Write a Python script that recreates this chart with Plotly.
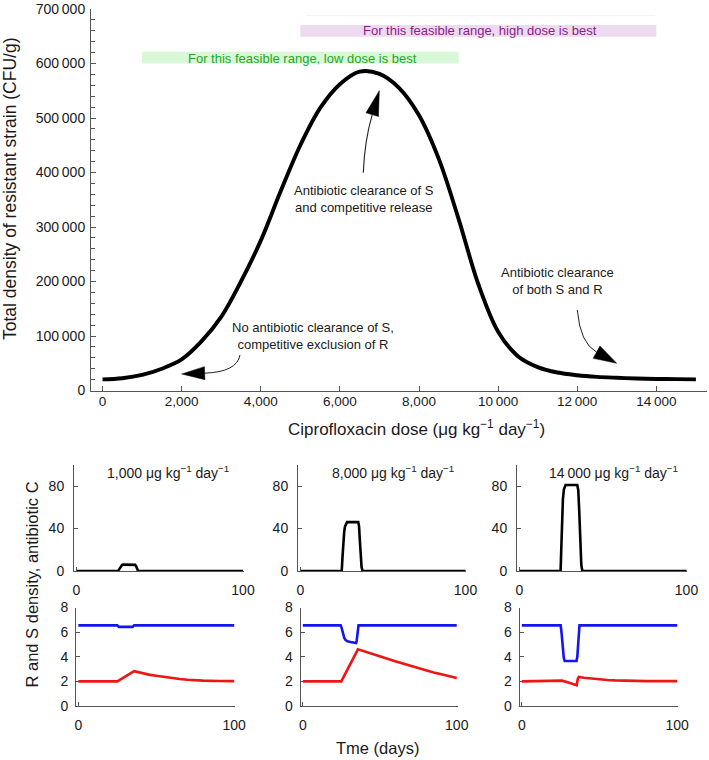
import math
import plotly.graph_objects as go

W, H = 709, 760
FONT = "Liberation Sans, Arial, sans-serif"
AX = "#555555"
TXT = "#1a1a1a"

# ---------------- data: top panel ----------------
dose = [0, 500, 1000, 1500, 2000, 2500, 3000, 3500, 4000, 4500, 5000, 5500, 6000, 6500,
        7000, 7500, 8000, 8500, 9000, 9500, 10000, 10500, 11000, 11500, 12000, 12500,
        13000, 13500, 14000, 14500, 15000]
density = [20500, 22500, 28500, 40000, 57000, 90000, 135000, 200000, 275000, 365000,
           450000, 518000, 562000, 585000, 581000, 555000, 505000, 425000, 315000, 195000,
           108000, 63000, 43000, 33000, 28000, 25000, 23300, 22000, 21200, 20800, 20500]

x_tickvals = [0, 2000, 4000, 6000, 8000, 10000, 12000, 14000]
x_ticktext = ["0", "2,000", "4,000", "6,000", "8,000", "10\u2009000", "12\u2009000", "14\u2009000"]
y_tickvals = [0, 100000, 200000, 300000, 400000, 500000, 600000, 700000]
y_ticktext = ["0", "100\u2009000", "200\u2009000", "300\u2009000", "400\u2009000",
              "500\u2009000", "600\u2009000", "700\u2009000"]

low_range = [1000, 9000]
low_band_y = [600000, 621500]
high_range = [5000, 14000]
high_band_y = [649000, 670500]

# ---------------- data: bottom panels ----------------
t_c1 = [0, 25, 25.8, 26.6, 27.4, 28, 34.6, 35.2, 35.8, 36.4, 37, 100]
c1 = [0, 0, 2, 4.5, 5.8, 6, 6, 5.8, 4.5, 2, 0, 0]
t_s1 = [0, 25, 26, 34.8, 35.8, 100]
s1 = [6.55, 6.55, 6.43, 6.43, 6.55, 6.55]
t_r1 = [0, 25, 35.8, 38, 40, 43, 46, 50, 55, 60, 65, 70, 75, 80, 90, 100]
r1 = [2, 2, 2.83, 2.76, 2.7, 2.61, 2.53, 2.45, 2.35, 2.26, 2.19, 2.13, 2.09, 2.06, 2.03, 2.02]

t_c2 = [0, 25, 25.5, 26, 26.5, 27, 27.5, 28.2, 35, 35.5, 36, 36.5, 37, 37.6, 100]
c2 = [0, 0, 14, 28, 37, 42, 44.5, 46, 46, 42, 28, 12, 4, 0, 0]
t_s2 = [0, 24.6, 25.2, 25.8, 26.4, 27.0, 27.8, 29.0, 31, 34.6, 35.0, 35.4, 35.8, 36.2, 100]
s2 = [6.55, 6.55, 6.35, 6.0, 5.7, 5.5, 5.36, 5.26, 5.2, 5.12, 5.3, 5.9, 6.4, 6.55, 6.55]
t_r2 = [0, 25, 35.8, 40, 45, 50, 55, 60, 65, 70, 75, 80, 85, 90, 95, 100]
r2 = [2, 2, 4.6, 4.42, 4.22, 4.02, 3.83, 3.64, 3.45, 3.27, 3.08, 2.9, 2.73, 2.57, 2.42, 2.27]

t_c3 = [0, 24.6, 25, 25.5, 26, 26.6, 27.6, 34.6, 35.2, 35.8, 36.4, 37, 37.6, 100]
c3 = [0, 0, 20, 50, 68, 77, 81, 81, 76, 55, 25, 6, 0, 0]
t_s3 = [0, 25, 25.6, 26.3, 27.0, 27.6, 35.2, 35.7, 36.2, 36.7, 37.1, 100]
s3 = [6.55, 6.55, 5.9, 4.7, 3.9, 3.65, 3.65, 4.0, 5.0, 6.1, 6.55, 6.55]
t_r3 = [0, 25, 25.8, 30, 35.3, 36.0, 36.6, 40, 45, 50, 55, 60, 70, 80, 100]
r3 = [2, 2, 2.06, 1.9, 1.68, 2.2, 2.36, 2.3, 2.22, 2.16, 2.11, 2.08, 2.03, 2.02, 2.02]

panel_titles = ["1,000 \u03bcg kg<sup>\u22121</sup> day<sup>\u22121</sup>",
                "8,000 \u03bcg kg<sup>\u22121</sup> day<sup>\u22121</sup>",
                "14\u2009000 \u03bcg kg<sup>\u22121</sup> day<sup>\u22121</sup>"]


# helpers: convert window pixel positions to paper fractions
def fx(px):
    return px / W


def fy(py):
    return 1 - py / H


def xd(a, b):
    return [fx(a), fx(b)]


def yd(top, bottom):
    return [fy(bottom), fy(top)]


def P(px, py):
    return f"{fx(px):.5f},{fy(py):.5f}"


fig = go.Figure()

# main curve
fig.add_trace(go.Scatter(x=dose, y=density, mode="lines", xaxis="x", yaxis="y",
                         line=dict(color="black", width=3.9, shape="spline", smoothing=1.0),
                         hoverinfo="skip"))

C_COL, S_COL, R_COL = "black", "#1515ee", "#ee1515"
panels = [(t_c1, c1, t_s1, s1, t_r1, r1), (t_c2, c2, t_s2, s2, t_r2, r2),
          (t_c3, c3, t_s3, s3, t_r3, r3)]
for i, (tc, cc, ts, ss, tr, rr) in enumerate(panels):
    xa_top, ya_top = f"x{2 + 2 * i}", f"y{2 + 2 * i}"
    xa_bot, ya_bot = f"x{3 + 2 * i}", f"y{3 + 2 * i}"
    fig.add_trace(go.Scatter(x=tc, y=cc, mode="lines", xaxis=xa_top, yaxis=ya_top,
                             line=dict(color=C_COL, width=2.6), hoverinfo="skip"))
    fig.add_trace(go.Scatter(x=ts, y=ss, mode="lines", xaxis=xa_bot, yaxis=ya_bot,
                             line=dict(color=S_COL, width=2.6), hoverinfo="skip"))
    fig.add_trace(go.Scatter(x=tr, y=rr, mode="lines", xaxis=xa_bot, yaxis=ya_bot,
                             line=dict(color=R_COL, width=2.6), hoverinfo="skip"))

common = dict(showline=True, linecolor=AX, linewidth=1, ticks="inside", tickcolor=AX,
              showgrid=False, zeroline=False, fixedrange=True, automargin=False,
              tickfont=dict(family=FONT, size=14, color=TXT))

layout = dict(
    width=W, height=H, margin=dict(l=0, r=0, t=0, b=0, autoexpand=False),
    paper_bgcolor="white", plot_bgcolor="white", showlegend=False,
    font=dict(family=FONT, color=TXT),
)

layout["xaxis"] = dict(common, domain=xd(91, 707), range=[-291, 15280], anchor="y",
                       tickvals=x_tickvals, ticktext=x_ticktext, ticklen=5,
                       tickfont=dict(family=FONT, size=13.5, color=TXT), ticklabelstandoff=-2)
layout["yaxis"] = dict(common, domain=yd(9, 390.5), range=[0, 700000], anchor="x",
                       tickvals=y_tickvals, ticktext=y_ticktext, ticklen=5,
                       minor=dict(dtick=20000, ticks="inside", ticklen=4, tickcolor=AX),
                       ticklabelstandoff=2)

top_x_dom = [(74, 243.5), (298, 466), (517, 687)]
bot_x_dom = [(76, 235), (300.5, 457.5), (519.5, 678)]
for i in range(3):
    n_top, n_bot = 2 + 2 * i, 3 + 2 * i
    layout[f"xaxis{n_top}"] = dict(common, domain=xd(*top_x_dom[i]), range=[-1.5, 100.3],
                                   anchor=f"y{n_top}", tickvals=[0, 100], ticklen=4,
                                   ticklabelstandoff=6)
    layout[f"yaxis{n_top}"] = dict(common, domain=yd(464.75, 571), range=[0, 100],
                                   anchor=f"x{n_top}", tickvals=[0, 40, 80], ticklen=4,
                                   ticklabelstandoff=6)
    layout[f"xaxis{n_bot}"] = dict(common, domain=xd(*bot_x_dom[i]), range=[-1.5, 100.5],
                                   anchor=f"y{n_bot}", tickvals=[0, 100], ticklen=4,
                                   ticklabelstandoff=6)
    layout[f"yaxis{n_bot}"] = dict(common, domain=yd(607.5, 706), range=[0, 8],
                                   anchor=f"x{n_bot}", tickvals=[0, 2, 4, 6, 8], ticklen=4,
                                   ticklabelstandoff=4)

fig.update_layout(**layout)

# feasible range bands
fig.add_shape(type="rect", xref="x", yref="y", x0=low_range[0], x1=low_range[1],
              y0=low_band_y[0], y1=low_band_y[1], fillcolor="#d8f8d8", line=dict(width=0),
              layer="below")
fig.add_shape(type="rect", xref="x", yref="y", x0=high_range[0], x1=high_range[1],
              y0=high_band_y[0], y1=high_band_y[1], fillcolor="#eedaee", line=dict(width=0),
              layer="below")
fig.add_shape(type="line", xref="paper", yref="paper", x0=fx(306), x1=fx(655),
              y0=fy(15.7), y1=fy(15.7), line=dict(color="#f2f2f2", width=1))


def ann(text, px, py, size=13, color=TXT, angle=0):
    fig.add_annotation(text=text, x=fx(px), y=fy(py), xref="paper", yref="paper",
                       showarrow=False, xanchor="center", yanchor="middle", textangle=angle,
                       font=dict(family=FONT, size=size, color=color))


ann("For this feasible range, low dose is best", 302.5, 58.3, 13, "#22a822")
ann("For this feasible range, high dose is best", 480.5, 30.7, 13, "#8e1a8e")
ann("Antibiotic clearance of S<br>and competitive release", 364, 199, 13)
ann("No antibiotic clearance of S,<br>competitive exclusion of R", 312.5, 336, 13)
ann("Antibiotic clearance<br>of both S and R", 557.5, 281, 13)

# axis titles
ann("Total density of resistant strain (CFU/g)", 10, 189, 17.5, angle=-90)
ann("Ciprofloxacin dose (\u03bcg kg<sup>\u22121</sup> day<sup>\u22121</sup>)", 416, 428, 17)
ann("R and S density, antibiotic C", 31.5, 585, 16.5, angle=-90)
ann("Tme (days)", 378, 748, 16.5)
for (cx, t) in zip([168, 393.3, 613.7], panel_titles):
    ann(t, cx, 472, 14)


# curved arrows
def arrow(tail, ctrl, tip, L, Wd, lw):
    dx, dy = tip[0] - ctrl[0], tip[1] - ctrl[1]
    n = math.hypot(dx, dy)
    ux, uy = dx / n, dy / n
    bx, by = tip[0] - L * ux, tip[1] - L * uy
    fig.add_shape(type="path", xref="paper", yref="paper",
                  path=f"M{P(*tail)} Q{P(*ctrl)} {P(bx, by)}",
                  line=dict(color="#222222", width=lw))
    px_, py_ = -uy, ux
    c1p = (bx + px_ * Wd / 2, by + py_ * Wd / 2)
    c2p = (bx - px_ * Wd / 2, by - py_ * Wd / 2)
    fig.add_shape(type="path", xref="paper", yref="paper",
                  path=f"M{P(*tip)} L{P(*c1p)} L{P(*c2p)} Z",
                  fillcolor="black", line=dict(color="black", width=0.5))


arrow((363.3, 172.7), (364.6, 140.6), (379.3, 90.7), 25, 13, 1.1)
arrow((240, 355), (237, 372), (181.7, 374), 23, 13, 1.0)
arrow((577.3, 310), (580, 343), (616.7, 363.3), 23, 14, 1.0)

# remove the default 8px page margin so the 709x760 figure fills the window exactly
fig.write_html(
    "out.html",
    config={"displayModeBar": False},
    post_script="document.body.style.margin='0';"
                "document.documentElement.style.overflow='hidden';",
)
